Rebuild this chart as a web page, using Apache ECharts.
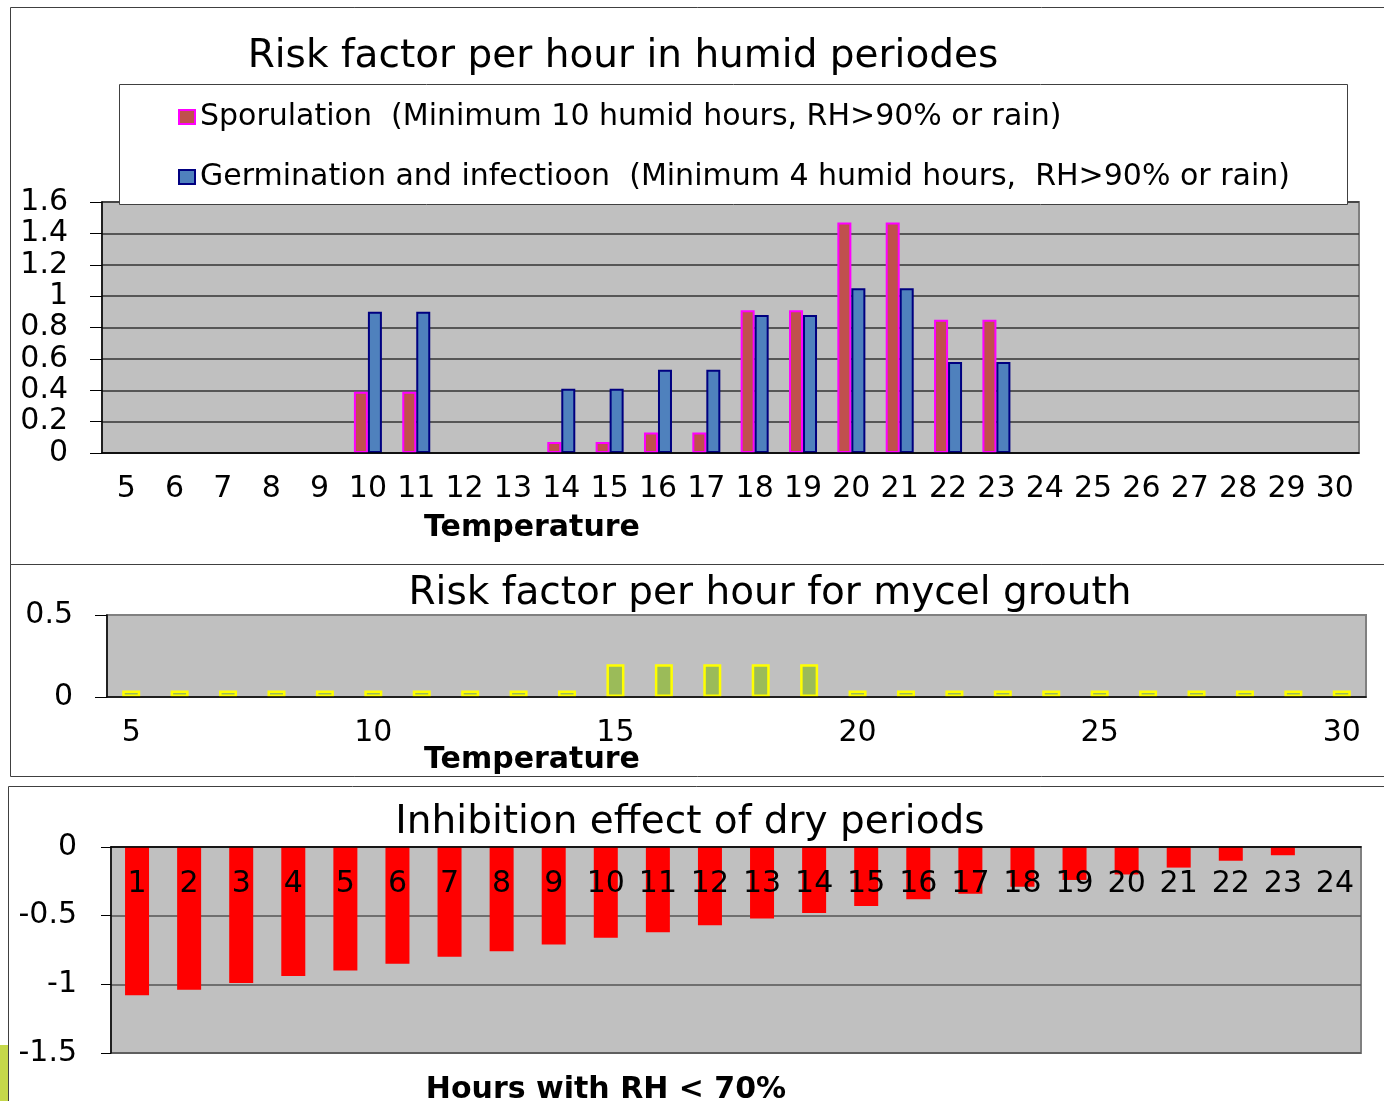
<!DOCTYPE html>
<html>
<head>
<meta charset="utf-8">
<title>Risk factor per hour</title>
<script src="https://cdn.jsdelivr.net/npm/echarts@6/dist/echarts.min.js"></script>
<style>
html, body { margin: 0; padding: 0; background: #fff; }
#chart { width: 1384px; height: 1101px; }
</style>
</head>
<body>
<div id="chart"></div>
<script>
// temperatures used by the two upper charts
var temps = [5, 6, 7, 8, 9, 10, 11, 12, 13, 14, 15, 16, 17, 18, 19, 20, 21, 22, 23, 24, 25, 26, 27, 28, 29, 30]
// risk factor per hour in humid periods (null = no bar)
var sporulation = [null, null, null, null, null, 0.39, 0.39, null, null, 0.07, 0.07, 0.13, 0.13,
  0.91, 0.91, 1.47, 1.47, 0.85, 0.85, null, null, null, null, null, null, null]
var germination = [null, null, null, null, null, 0.9, 0.9, null, null, 0.41, 0.41, 0.53, 0.53,
  0.88, 0.88, 1.05, 1.05, 0.58, 0.58, null, null, null, null, null, null, null]
// risk factor per hour for mycel growth
var mycel = [0.04, 0.04, 0.04, 0.04, 0.04, 0.04, 0.04, 0.04, 0.04, 0.04, 0.2, 0.2, 0.2,
  0.2, 0.2, 0.04, 0.04, 0.04, 0.04, 0.04, 0.04, 0.04, 0.04, 0.04, 0.04, 0.04]
// inhibition effect of dry periods
var dryHours = [1, 2, 3, 4, 5, 6, 7, 8, 9, 10, 11, 12, 13, 14, 15, 16, 17, 18, 19, 20, 21, 22, 23, 24]
var inhibition = [-1.08, -1.04, -0.99, -0.94, -0.9, -0.85, -0.8, -0.76, -0.71, -0.66, -0.62, -0.57,
  -0.52, -0.48, -0.43, -0.38, -0.34, -0.29, -0.24, -0.2, -0.15, -0.1, -0.06, 0]

var sporName = 'Sporulation  (Minimum 10 humid hours, RH>90% or rain)'
var germName = 'Germination and infectioon  (Minimum 4 humid hours,  RH>90% or rain)'

var font = 'DejaVu Sans'
var label = { color: '#000', fontSize: 30, fontFamily: font }

function titleItem(text, x, y, size, bold) {
  return {
    text: text, left: x, top: y, textAlign: 'center', padding: 0,
    textStyle: { color: '#000', fontSize: size, lineHeight: size, fontFamily: font, fontWeight: bold ? 'bold' : 'normal' }
  }
}

var chart = echarts.init(document.getElementById('chart'))
var option = {
  backgroundColor: '#fff',
  animation: false,
  textStyle: { fontFamily: font },
  title: [
    titleItem('Risk factor per hour in humid periodes', 623, 37, 39, false),
    titleItem('Temperature', 532, 513, 30, true),
    titleItem('Risk factor per hour for mycel grouth', 770, 574, 39, false),
    titleItem('Temperature', 532, 745, 30, true),
    titleItem('Inhibition effect of dry periods', 690, 803, 39, false),
    titleItem('Hours with RH < 70%', 606, 1075, 30, true)
  ],
  legend: {
    data: [sporName, germName],
    orient: 'vertical',
    left: 178, top: 102, padding: 0,
    itemGap: 30, itemWidth: 16, itemHeight: 14,
    icon: 'rect',
    selectedMode: false,
    z: 20,
    textStyle: { color: '#000', fontSize: 30, lineHeight: 30, fontFamily: font }
  },
  graphic: [
    // panel frames
    { type: 'rect', z: 1, shape: { x: 10.5, y: 7.5, width: 1380, height: 557 }, style: { fill: 'none', stroke: '#404040', lineWidth: 1 } },
    { type: 'rect', z: 1, shape: { x: 10.5, y: 564.5, width: 1380, height: 212 }, style: { fill: 'none', stroke: '#404040', lineWidth: 1 } },
    { type: 'rect', z: 1, shape: { x: 8.5, y: 786.5, width: 1380, height: 330 }, style: { fill: 'none', stroke: '#404040', lineWidth: 1 } },
    // legend box
    { type: 'rect', z: 10, shape: { x: 119.5, y: 84.5, width: 1228, height: 120 }, style: { fill: '#fff', stroke: '#404040', lineWidth: 1 } },
    // slide background strip at the lower left
    { type: 'rect', z: 1, shape: { x: 0, y: 1045, width: 8, height: 56 }, style: { fill: '#c5d84a' } }
  ],
  grid: [
    { left: 102, top: 202, width: 1257, height: 251, show: true, backgroundColor: '#c0c0c0', borderColor: '#808080', borderWidth: 2 },
    { left: 107, top: 615, width: 1259, height: 82, show: true, backgroundColor: '#c0c0c0', borderColor: '#808080', borderWidth: 2 },
    { left: 111, top: 847, width: 1250, height: 206, show: true, backgroundColor: '#c0c0c0', borderColor: '#808080', borderWidth: 2 }
  ],
  xAxis: [
    {
      type: 'category', gridIndex: 0, data: temps, z: 5,
      axisLine: { lineStyle: { color: '#000', width: 1.5 } },
      axisTick: { length: 8, interval: 0, lineStyle: { color: '#000' } },
      axisLabel: Object.assign({ interval: 0, margin: 21 }, label)
    },
    {
      type: 'category', gridIndex: 1, data: temps, z: 5,
      axisLine: { lineStyle: { color: '#000', width: 1.5 } },
      axisTick: { length: 9, interval: 0, lineStyle: { color: '#000' } },
      axisLabel: Object.assign({ interval: 4, margin: 21 }, label)
    },
    {
      type: 'category', gridIndex: 2, data: dryHours, position: 'top', z: 5,
      axisLine: { lineStyle: { color: '#000', width: 1.5 } },
      axisTick: { inside: true, length: 8, interval: 0, lineStyle: { color: '#000' } },
      axisLabel: Object.assign({ inside: true, interval: 0, margin: 22 }, label)
    }
  ],
  yAxis: [
    {
      type: 'value', gridIndex: 0, min: 0, max: 1.6, interval: 0.2,
      axisLine: { show: true, lineStyle: { color: '#000', width: 1.5 } },
      axisTick: { show: true, length: 12, lineStyle: { color: '#000' } },
      axisLabel: Object.assign({ margin: 34, padding: [4, 0, 0, 0] }, label),
      splitLine: { lineStyle: { color: '#333', width: 1.5 } }
    },
    {
      type: 'value', gridIndex: 1, min: 0, max: 0.5, interval: 0.5,
      axisLine: { show: true, lineStyle: { color: '#000', width: 1.5 } },
      axisTick: { show: true, length: 12, lineStyle: { color: '#000' } },
      axisLabel: Object.assign({ margin: 34, padding: [4, 0, 0, 0] }, label),
      splitLine: { show: false }
    },
    {
      type: 'value', gridIndex: 2, min: -1.5, max: 0, interval: 0.5,
      axisLine: { show: true, lineStyle: { color: '#000', width: 1.5 } },
      axisTick: { show: true, length: 10, lineStyle: { color: '#000' } },
      axisLabel: Object.assign({ margin: 34, padding: [4, 0, 0, 0] }, label),
      splitLine: { lineStyle: { color: '#555', width: 1.5 } }
    }
  ],
  series: [
    {
      name: sporName, type: 'bar', xAxisIndex: 0, yAxisIndex: 0, data: sporulation,
      barWidth: 14, barGap: '0%',
      itemStyle: { color: '#c0504d', borderColor: '#ff00ff', borderWidth: 2 }
    },
    {
      name: germName, type: 'bar', xAxisIndex: 0, yAxisIndex: 0, data: germination,
      barWidth: 14, barGap: '0%',
      itemStyle: { color: '#4f81bd', borderColor: '#000080', borderWidth: 2 }
    },
    {
      name: 'Mycel growth', type: 'bar', xAxisIndex: 1, yAxisIndex: 1, data: mycel,
      barWidth: 18,
      itemStyle: { color: '#9bbb59', borderColor: '#ffff00', borderWidth: 2.5 }
    },
    {
      name: 'Inhibition', type: 'bar', xAxisIndex: 2, yAxisIndex: 2, data: inhibition,
      barWidth: 24,
      itemStyle: { color: '#ff0000' }
    }
  ]
}
chart.setOption(option)
</script>
</body>
</html>
